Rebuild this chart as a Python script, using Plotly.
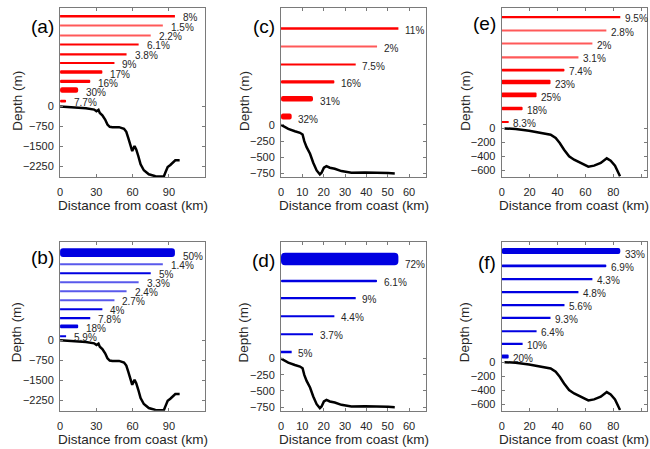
import plotly.graph_objects as go

# ---------------- data ----------------
# bathymetry profiles (distance km, depth m)
dist_site1 = [0, 10.4, 21.4, 28.2, 30.1, 31.8, 32.9, 35, 37.3, 39.2, 41.1, 43.3, 48.8, 52.9, 54.8,
              56.4, 58.4, 59.7, 61.6, 63, 64.7, 66.6, 69.3, 73.4, 78.9, 85.8, 87.1, 89, 91.2, 93.4,
              95.3, 98.9]
depth_site1 = [0, -25, -62, -112, -175, -125, -237, -325, -487, -675, -762, -775, -775, -837, -950,
               -1175, -1550, -1675, -1487, -1612, -1862, -2175, -2400, -2550, -2625, -2637, -2487,
               -2275, -2200, -2112, -2025, -2025]
dist_site2 = [0, 1.9, 3.4, 6.5, 8.9, 10.1, 10.9, 12, 13.6, 15.1, 16.7, 18.2, 19, 20.1, 21.3, 22.9,
              25.2, 28.3, 33, 39.3, 45.5, 50.2, 53.3]
depth_site2 = [0, -36, -62, -98, -123, -149, -252, -345, -447, -586, -705, -766, -740, -663, -638,
               -663, -679, -715, -740, -735, -735, -746, -751]
dist_site3 = [2, 10, 19.6, 26.8, 35.1, 38.7, 41.6, 44.7, 48.3, 51.9, 56.6, 62.1, 66.2, 71, 75.3,
              78.1, 81.2, 83.6, 84.8]
depth_site3 = [0, -9, -33, -57, -90, -137, -208, -303, -397, -445, -492, -544, -530, -492, -426,
               -459, -530, -624, -681]

# distance bins (end of each bar, km), nearest coast first
bins_site1 = [5, 15, 25, 35, 45, 55, 65, 75, 85, 95]
bins_site2 = [5, 15, 25, 35, 45, 55]
bins_site3 = [5, 15, 25, 35, 45, 55, 65, 75, 85]

# percentages per distance bin (nearest coast first)
pct_a = [7.7, 30, 16, 17, 9, 3.8, 6.1, 2.2, 1.5, 8]
pct_b = [5.9, 18, 7.8, 4, 2.7, 2.4, 3.3, 5, 1.4, 50]
pct_c = [32, 31, 16, 7.5, 2, 11]
pct_d = [5, 3.7, 4.4, 9, 6.1, 72]
pct_e = [8.3, 18, 25, 23, 7.4, 3.1, 2, 2.8, 9.5]
pct_f = [20, 10, 6.4, 9.3, 5.6, 4.8, 4.3, 6.9, 33]

labels = ["(a)", "(b)", "(c)", "(d)", "(e)", "(f)"]

x_ticks_site1 = [0, 30, 60, 90]
x_ticks_site2 = [0, 10, 20, 30, 40, 50, 60]
x_ticks_site3 = [0, 20, 40, 60, 80, 100]
y_ticks_site1 = [0, -750, -1500, -2250]
y_ticks_site2 = [0, -250, -500, -750]
y_ticks_site3 = [0, -200, -400, -600]

# ---------------- layout / style ----------------
W, H = 650, 449
RED = "#ff0000"
BLUE = "#0000e1"
TXT = "#262626"
FONT = "Liberation Sans, Arial, Helvetica, sans-serif"

col_left = [57.3, 279.3, 501.0]
col_w = 145.8
row_top = [8.5, 243.3]
panel_h = 169.2

sites = [
    dict(dist=dist_site1, depth=depth_site1, bins=bins_site1, xr=[0, 120], yr=[-2650, 3700],
         xt=x_ticks_site1, yt=y_ticks_site1, xshift=6),
    dict(dist=dist_site2, depth=depth_site2, bins=bins_site2, xr=[0, 68], yr=[-805, 1800],
         xt=x_ticks_site2, yt=y_ticks_site2, xshift=4.5),
    dict(dist=dist_site3, depth=depth_site3, bins=bins_site3, xr=[0, 104], yr=[-690, 1705],
         xt=x_ticks_site3, yt=y_ticks_site3, xshift=2.5),
]

# panel order: (a) (b) (c) (d) (e) (f) -> (col,row)
panels = [
    dict(col=0, row=0, pct=pct_a, color=RED, b1=5.3, s=9.44, lab_y=26.7),
    dict(col=0, row=1, pct=pct_b, color=BLUE, b1=3.8, s=9.02, lab_y=259.0),
    dict(col=1, row=0, pct=pct_c, color=RED, b1=6.3, s=17.9, lab_y=26.7),
    dict(col=1, row=1, pct=pct_d, color=BLUE, b1=6.5, s=17.84, lab_y=261.7),
    dict(col=2, row=0, pct=pct_e, color=RED, b1=5.6, s=13.16, lab_y=23.3),
    dict(col=2, row=1, pct=pct_f, color=BLUE, b1=4.3, s=13.16, lab_y=263.3),
]

fig = go.Figure()
annotations = []
layout = dict(width=W, height=H, margin=dict(l=0, r=0, t=0, b=0),
              paper_bgcolor="white", plot_bgcolor="white", showlegend=False,
              font=dict(family=FONT, color=TXT, size=11))

for i, p in enumerate(panels):
    site = sites[p["col"]]
    n = i + 1
    xa, ya, yb = f"x{n}", f"y{n}", f"y{n + 6}"
    left = col_left[p["col"]]
    top = row_top[p["row"]]
    xdom = [left / W, (left + col_w) / W]
    ydom = [1 - (top + panel_h) / H, 1 - top / H]

    ymin, ymax = site["yr"]
    zero_from_bottom = panel_h * (-ymin) / (ymax - ymin)
    lo = 1 - (zero_from_bottom + p["b1"]) / p["s"]
    hi = lo + panel_h / p["s"]

    axis_common = dict(showline=True, linecolor="#7a7a7a", linewidth=1, mirror="ticks",
                       ticks="inside", ticklen=3, tickcolor="#7a7a7a", showgrid=False,
                       zeroline=False, tickfont=dict(size=11, color=TXT, family=FONT))
    layout[f"xaxis{n}"] = dict(domain=xdom, anchor=ya, range=site["xr"], tickmode="array",
                               tickvals=site["xt"], ticklabelstandoff=5, **axis_common)
    layout[f"yaxis{n}"] = dict(domain=ydom, anchor=xa, range=site["yr"], tickmode="array",
                               tickvals=site["yt"], ticklabelstandoff=3, **axis_common)
    layout[f"yaxis{n + 6}"] = dict(overlaying=ya, anchor=xa, range=[lo, hi], visible=False,
                                   showgrid=False, zeroline=False)

    # bathymetry
    fig.add_trace(go.Scatter(x=site["dist"], y=site["depth"], mode="lines",
                             line=dict(color="black", width=2.5), xaxis=xa, yaxis=ya,
                             hoverinfo="skip"))

    # bars: thickness scales with percentage
    idx = list(range(1, len(p["pct"]) + 1))
    thick_px = [0.7 + 0.163 * v for v in p["pct"]]
    widths = [t / p["s"] for t in thick_px]
    offsets = [-0.15 * w for w in widths]
    opac = [0.65 if v < 3.5 else 1.0 for v in p["pct"]]
    fig.add_trace(go.Bar(x=site["bins"], y=idx, orientation="h", base=0,
                         width=widths, offset=offsets,
                         marker=dict(color=p["color"], opacity=opac, line=dict(width=0),
                                     cornerradius="40%"),
                         xaxis=xa, yaxis=yb, hoverinfo="skip"))

    for k, v, xe in zip(idx, p["pct"], site["bins"]):
        txt = f"{v:g}%"
        annotations.append(dict(x=xe, y=k, xref=xa, yref=yb, text=txt, showarrow=False,
                                xanchor="left", yanchor="middle", xshift=site["xshift"],
                                yshift=-1, font=dict(size=10, color=TXT, family=FONT)))

    # panel label
    annotations.append(dict(x=(left - 4) / W, y=1 - p["lab_y"] / H, xref="paper", yref="paper",
                            text=labels[i], showarrow=False, xanchor="right", yanchor="middle",
                            font=dict(size=19, color="black", family=FONT)))

    # axis titles
    annotations.append(dict(x=(left + col_w / 2) / W, y=1 - (top + panel_h + 29) / H,
                            xref="paper", yref="paper", text="Distance from coast (km)",
                            showarrow=False, xanchor="center", yanchor="middle",
                            font=dict(size=13.5, color=TXT, family=FONT)))
    ylab_x = left - (43.6 if p["col"] == 0 else 37.2)
    ylab_y = 101.5 if p["row"] == 0 else 334.0
    annotations.append(dict(x=ylab_x / W, y=1 - ylab_y / H, xref="paper", yref="paper",
                            text="Depth (m)", textangle=-90, showarrow=False,
                            xanchor="center", yanchor="middle",
                            font=dict(size=13.5, color=TXT, family=FONT)))

layout["annotations"] = annotations
fig.update_layout(**layout)
fig.write_html("out.html")
